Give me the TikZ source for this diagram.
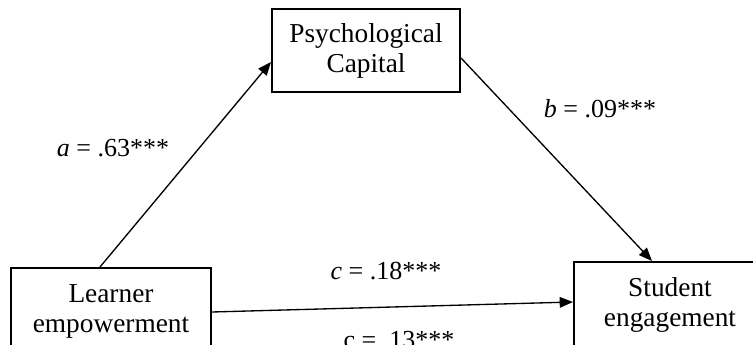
\documentclass[tikz,border=0pt]{standalone}
\usepackage{fontspec}
\setmainfont{Liberation Serif}
\usetikzlibrary{arrows.meta}
\begin{document}
\begin{tikzpicture}[x=0.75pt,y=-0.75pt,
  box/.style={draw,line width=1.5pt,align=center,inner sep=0pt,
    font=\fontsize{20.5}{22.5}\selectfont},
  lbl/.style={anchor=base,inner sep=0pt,font=\fontsize{19.5}{22}\selectfont},
  conn/.style={line width=1pt,-{Triangle[length=10pt,width=8pt]}}]
\useasboundingbox (0,0) rectangle (753,345);
\node[box,minimum width=141pt,minimum height=62.25pt] (P) at (366,50.5) {Psychological\\Capital};
\node[box,minimum width=150pt,minimum height=64.5pt] (L) at (111,311) {Learner\\empowerment};
\node[box,minimum width=144pt,minimum height=64.5pt] (S) at (670,305) {Student\\engagement};
\draw[conn] ([xshift=-8.25pt]L.north) -- ([yshift=-8.6pt]P.west);
\draw[conn] ([yshift=-5.6pt]P.east) -- ([xshift=-13.5pt]S.north);
\draw[conn] ([yshift=-0.75pt]L.east) -- ([yshift=2.25pt]S.west);
\node[lbl] (la) at (113,157) {\textit{a} = .63***};
\node[lbl] (lb) at (600,118) {\textit{b} = .09***};
\node[lbl] (lc) at (386,280) {\textit{c} = .18***};
\node[lbl] (lc2) at (399,348) {c = .13***};
\end{tikzpicture}
\end{document}
